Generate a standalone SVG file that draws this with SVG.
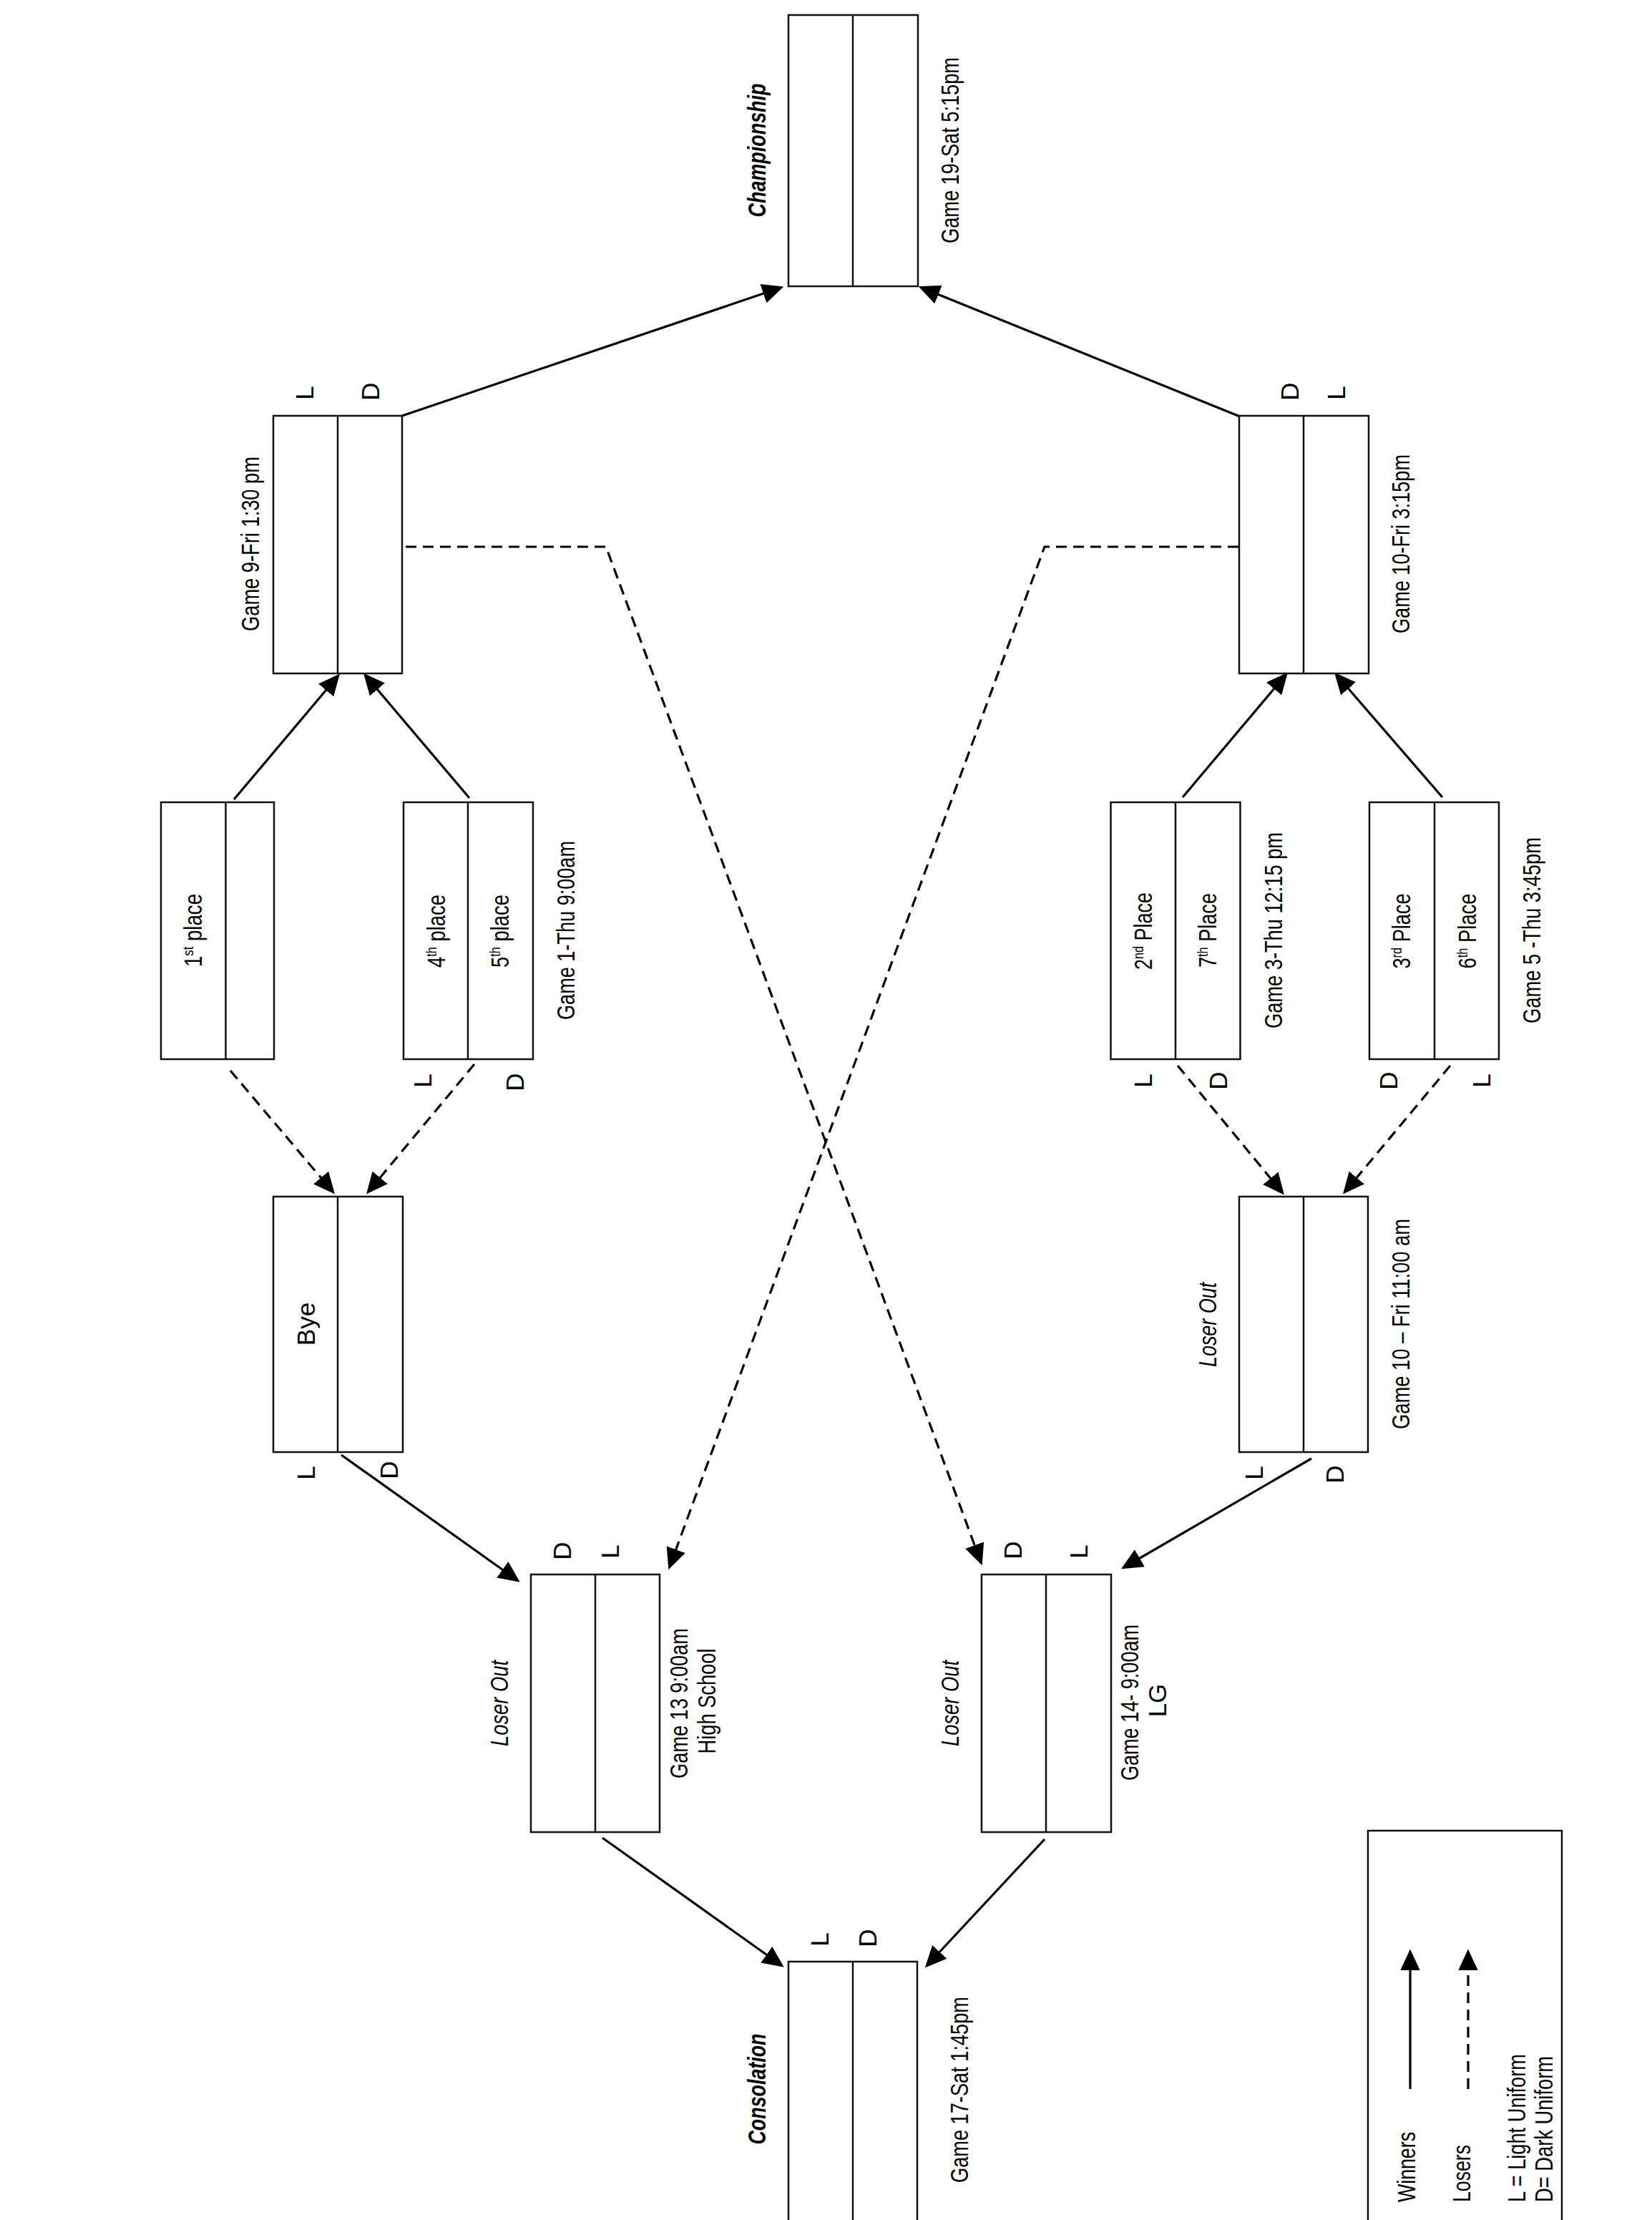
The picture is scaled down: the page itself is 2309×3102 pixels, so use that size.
<svg xmlns="http://www.w3.org/2000/svg" width="2309" height="3102" viewBox="0 0 2309 3102">
<style>
.bg{fill:#fff}
.box{fill:#fff;stroke:#111;stroke-width:2.5}
.div{stroke:#111;stroke-width:2.5}
.w{fill:none;stroke:#000;stroke-width:3.2;marker-end:url(#ah)}
.l{fill:none;stroke:#000;stroke-width:3.2;stroke-dasharray:15 9;marker-end:url(#ah)}
text{font-family:"Liberation Sans Narrow","Arial Narrow","Liberation Sans",Arial,sans-serif;font-size:35px;fill:#000;text-anchor:middle}
.hd{font-weight:bold;font-style:italic;font-size:35px}
.it{font-style:italic}
.st{text-anchor:start}
.sup{font-size:21px}
</style>
<defs>
<marker id="ah" markerUnits="userSpaceOnUse" markerWidth="30" markerHeight="30" viewBox="0 0 26 24" refX="22" refY="12" orient="auto">
<path d="M0,0 L26,12 L0,24 z" fill="#000"/>
</marker>
</defs>
<rect class="bg" x="0" y="0" width="2309" height="3102"/>

<g id="connectors">
<path class="w" d="M562,581 L1091,402"/>
<path class="w" d="M1733,582 L1288,402"/>
<path class="w" d="M327,1117 L472,945"/>
<path class="w" d="M656,1115 L511,944"/>
<path class="w" d="M1653,1114 L1797,943"/>
<path class="w" d="M2016,1114 L1868,943"/>
<path class="w" d="M477,2033 L723,2208"/>
<path class="w" d="M1833,2038 L1571,2190"/>
<path class="w" d="M842,2568 L1092,2746"/>
<path class="w" d="M1460,2570 L1296,2746"/>
<path class="l" d="M322,1496 L465,1665"/>
<path class="l" d="M663,1487 L515,1665"/>
<path class="l" d="M1646,1489 L1792,1666"/>
<path class="l" d="M2027,1489 L1880,1665"/>
<path class="l" d="M567,764 L847,764 L1371,2183"/>
<path class="l" d="M1731,764 L1460,764 L936,2189"/>
</g>

<g id="championship">
<rect class="box" x="1102" y="21" width="181" height="379"/>
<line class="div" x1="1192" y1="21" x2="1192" y2="400"/>
<text class="hd" transform="translate(1070,210) rotate(-90)" textLength="187" lengthAdjust="spacingAndGlyphs">Championship</text>
<text transform="translate(1340,210) rotate(-90)" textLength="260" lengthAdjust="spacingAndGlyphs">Game 19-Sat 5:15pm</text>
</g>

<g id="game9">
<rect class="box" x="382" y="581" width="180" height="360"/>
<line class="div" x1="472" y1="581" x2="472" y2="941"/>
<text transform="translate(438,549) rotate(-90)">L</text>
<text transform="translate(530,547) rotate(-90)">D</text>
<text transform="translate(362,760) rotate(-90)" textLength="244" lengthAdjust="spacingAndGlyphs">Game 9-Fri 1:30 pm</text>
</g>

<g id="game10">
<rect class="box" x="1732" y="581" width="181" height="360"/>
<line class="div" x1="1822" y1="581" x2="1822" y2="941"/>
<text transform="translate(1815,547) rotate(-90)">D</text>
<text transform="translate(1880,549) rotate(-90)">L</text>
<text transform="translate(1970,760) rotate(-90)" textLength="250" lengthAdjust="spacingAndGlyphs">Game 10-Fri 3:15pm</text>
</g>

<g id="first-place">
<rect class="box" x="225" y="1121" width="158" height="359"/>
<line class="div" x1="315.5" y1="1121" x2="315.5" y2="1480"/>
<text transform="translate(282,1300) rotate(-90)" textLength="102" lengthAdjust="spacingAndGlyphs">1<tspan class="sup" dy="-12">st</tspan><tspan dy="12"> place</tspan></text>
</g>

<g id="game1">
<rect class="box" x="564" y="1121" width="181" height="359"/>
<line class="div" x1="654" y1="1121" x2="654" y2="1480"/>
<text transform="translate(622,1301) rotate(-90)" textLength="102" lengthAdjust="spacingAndGlyphs">4<tspan class="sup" dy="-12">th</tspan><tspan dy="12"> place</tspan></text>
<text transform="translate(711,1301) rotate(-90)" textLength="102" lengthAdjust="spacingAndGlyphs">5<tspan class="sup" dy="-12">th</tspan><tspan dy="12"> place</tspan></text>
<text transform="translate(803,1300) rotate(-90)" textLength="250" lengthAdjust="spacingAndGlyphs">Game 1-Thu 9:00am</text>
<text transform="translate(603,1510) rotate(-90)">L</text>
<text transform="translate(732,1512) rotate(-90)">D</text>
</g>

<g id="game3">
<rect class="box" x="1552.5" y="1121" width="181" height="359"/>
<line class="div" x1="1643" y1="1121" x2="1643" y2="1480"/>
<text transform="translate(1610,1301) rotate(-90)" textLength="108" lengthAdjust="spacingAndGlyphs">2<tspan class="sup" dy="-12">nd</tspan><tspan dy="12"> Place</tspan></text>
<text transform="translate(1700,1300) rotate(-90)" textLength="104" lengthAdjust="spacingAndGlyphs">7<tspan class="sup" dy="-12">th</tspan><tspan dy="12"> Place</tspan></text>
<text transform="translate(1792,1300) rotate(-90)" textLength="274" lengthAdjust="spacingAndGlyphs">Game 3-Thu 12:15 pm</text>
<text transform="translate(1610,1510) rotate(-90)">L</text>
<text transform="translate(1715,1510) rotate(-90)">D</text>
</g>

<g id="game5">
<rect class="box" x="1914" y="1121" width="181" height="359"/>
<line class="div" x1="2005" y1="1121" x2="2005" y2="1480"/>
<text transform="translate(1971,1301) rotate(-90)" textLength="105" lengthAdjust="spacingAndGlyphs">3<tspan class="sup" dy="-12">rd</tspan><tspan dy="12"> Place</tspan></text>
<text transform="translate(2063,1301) rotate(-90)" textLength="105" lengthAdjust="spacingAndGlyphs">6<tspan class="sup" dy="-12">th</tspan><tspan dy="12"> Place</tspan></text>
<text transform="translate(2153,1300) rotate(-90)" textLength="260" lengthAdjust="spacingAndGlyphs">Game 5 -Thu 3:45pm</text>
<text transform="translate(1953,1510) rotate(-90)">D</text>
<text transform="translate(2083,1510) rotate(-90)">L</text>
</g>

<g id="bye">
<rect class="box" x="382" y="1672" width="181" height="357"/>
<line class="div" x1="472" y1="1672" x2="472" y2="2029"/>
<text transform="translate(440,1850) rotate(-90)">Bye</text>
<text transform="translate(440,2058) rotate(-90)">L</text>
<text transform="translate(556,2054) rotate(-90)">D</text>
</g>

<g id="game10-loser-out">
<rect class="box" x="1732" y="1672" width="180" height="357"/>
<line class="div" x1="1822" y1="1672" x2="1822" y2="2029"/>
<text class="it" transform="translate(1700,1851) rotate(-90)" textLength="118" lengthAdjust="spacingAndGlyphs">Loser Out</text>
<text transform="translate(1970,1850) rotate(-90)" textLength="294" lengthAdjust="spacingAndGlyphs">Game 10 – Fri 11:00 am</text>
<text transform="translate(1765,2058) rotate(-90)">L</text>
<text transform="translate(1878,2060) rotate(-90)">D</text>
</g>

<g id="game13">
<rect class="box" x="742" y="2200" width="180" height="360"/>
<line class="div" x1="832" y1="2200" x2="832" y2="2560"/>
<text class="it" transform="translate(710,2380) rotate(-90)" textLength="120" lengthAdjust="spacingAndGlyphs">Loser Out</text>
<text transform="translate(961,2380) rotate(-90)" textLength="210" lengthAdjust="spacingAndGlyphs">Game 13 9:00am</text>
<text transform="translate(1000,2377) rotate(-90)" textLength="147" lengthAdjust="spacingAndGlyphs">High School</text>
<text transform="translate(798,2167) rotate(-90)">D</text>
<text transform="translate(865,2168) rotate(-90)">L</text>
</g>

<g id="game14">
<rect class="box" x="1372" y="2200" width="181" height="360"/>
<line class="div" x1="1462" y1="2200" x2="1462" y2="2560"/>
<text class="it" transform="translate(1340,2380) rotate(-90)" textLength="120" lengthAdjust="spacingAndGlyphs">Loser Out</text>
<text transform="translate(1591,2379) rotate(-90)" textLength="218" lengthAdjust="spacingAndGlyphs">Game 14- 9:00am</text>
<text transform="translate(1630,2376) rotate(-90)">LG</text>
<text transform="translate(1428,2166) rotate(-90)">D</text>
<text transform="translate(1520,2168) rotate(-90)">L</text>
</g>

<g id="consolation">
<rect class="box" x="1102" y="2741" width="180" height="380"/>
<line class="div" x1="1192" y1="2741" x2="1192" y2="3110"/>
<text class="hd" transform="translate(1070,2919) rotate(-90)" textLength="155" lengthAdjust="spacingAndGlyphs">Consolation</text>
<text transform="translate(1353,2920) rotate(-90)" textLength="260" lengthAdjust="spacingAndGlyphs">Game 17-Sat 1:45pm</text>
<text transform="translate(1158,2710) rotate(-90)">L</text>
<text transform="translate(1225,2708) rotate(-90)">D</text>
</g>

<g id="legend">
<rect class="box" x="1912" y="2558" width="271" height="580"/>
<path class="w" d="M1971,2919 L1971,2728"/>
<path class="l" d="M2052,2919 L2052,2728"/>
<text class="st" transform="translate(1978,3077) rotate(-90)" textLength="98" lengthAdjust="spacingAndGlyphs">Winners</text>
<text class="st" transform="translate(2055,3077) rotate(-90)" textLength="80" lengthAdjust="spacingAndGlyphs">Losers</text>
<text class="st" transform="translate(2132,3077) rotate(-90)" textLength="207" lengthAdjust="spacingAndGlyphs">L = Light Uniform</text>
<text class="st" transform="translate(2170,3077) rotate(-90)" textLength="204" lengthAdjust="spacingAndGlyphs">D= Dark Uniform</text>
</g>
</svg>
